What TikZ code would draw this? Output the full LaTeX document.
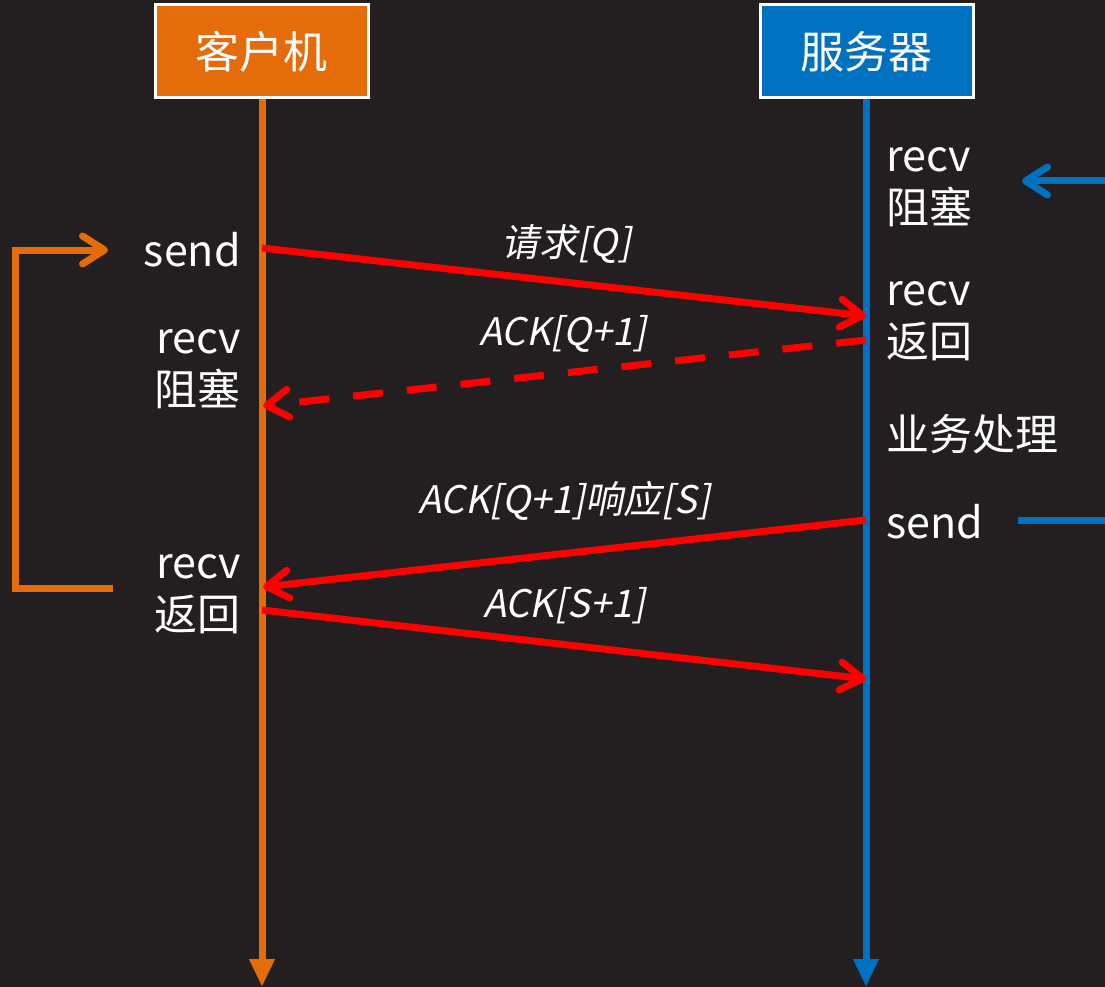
\documentclass[tikz,border=0pt]{standalone}
\usepackage{fontspec}
\setmainfont{Noto Sans CJK SC}
\newfontfamily\slantfont[FakeSlant=0.2]{Noto Sans CJK SC}
\usetikzlibrary{arrows.meta}
\definecolor{bg}{HTML}{231F20}
\definecolor{orng}{HTML}{E46C0A}
\definecolor{blu}{HTML}{0070C0}
\definecolor{rd}{HTML}{FF0000}
\tikzset{
  titlebox/.style={draw=white, line width=3pt, minimum width=213pt, minimum height=93pt, inner sep=0pt, text=white, font=\fontsize{44}{50}\selectfont},
  lifeline/.style={line width=7pt, -{Triangle[length=28pt,width=24pt]}},
  msg/.style={draw=rd, line width=7pt, -{Straight Barb[length=22pt,width=28pt,round]}},
  msglabel/.style={text=white, inner sep=0pt, font=\fontsize{38}{42}\slantfont},
  side/.style={text=white, inner sep=0pt, font=\fontsize{43}{52}\selectfont},
  loopline/.style={draw=orng, line width=7pt, -{Straight Barb[length=22pt,width=28pt,round]}},
}
\begin{document}
\begin{tikzpicture}[x=1pt,y=-1pt]
\fill[bg] (0,0) rectangle (1105,987);
\useasboundingbox (0,0) rectangle (1105,987);

% title boxes
\node[titlebox, fill=orng] (client) at (261.5,51.5) {客户机};
\node[titlebox, fill=blu] (server) at (866.5,51.5) {服务器};

% lifelines
\coordinate (cend) at (262,987);
\coordinate (send) at (866,987);
\draw[lifeline, orng] (client.south -| cend) -- (cend);
\draw[lifeline, blu] (server.south -| send) -- (send);

% message points
\coordinate (c1) at (262,248);
\coordinate (s1) at (866,316);
\coordinate (s2) at (866,340);
\coordinate (c2) at (263,406);
\coordinate (s3) at (866,520);
\coordinate (c3) at (263,587);
\coordinate (c4) at (262,610);
\coordinate (s4) at (866,679);

\draw[msg] (c1) -- (s1);
\draw[msg, dash pattern=on 30pt off 24pt] (s2) -- (c2);
\draw[msg] (s3) -- (c3);
\draw[msg] (c4) -- (s4);

% message labels
\node[msglabel] (l1) at (566,244) {请求[Q]};
\node[msglabel] (l2) at (563,334) {ACK[Q+1]};
\node[msglabel] (l3) at (564,501) {ACK[Q+1]响应[S]};
\node[msglabel] (l4) at (564,606) {ACK[S+1]};

% client side labels
\node[side, anchor=east] (csend) at (241,250) {send};
\node[side, anchor=east, align=right] (crecv1) at (241,369) {recv\\阻塞};
\node[side, anchor=east, align=right] (crecv2) at (241,594) {recv\\返回};

% server side labels
\node[side, anchor=west, align=left] (srecv1) at (886,187) {recv\\阻塞};
\node[side, anchor=west, align=left] (srecv2) at (886,321) {recv\\返回};
\node[side, anchor=west] (sproc) at (886,434) {业务处理};
\node[side, anchor=west] (ssend) at (886,522) {send};

% client loop
\coordinate (lb) at (113,588);
\coordinate (lc1) at (15,588);
\coordinate (lt) at (108,250);
\draw[loopline] (lb) -- (lc1) |- (lt);

% server external arrows
\coordinate (b1s) at (1105,181);
\coordinate (b1e) at (1022,181);
\draw[line width=7pt, draw=blu, -{Straight Barb[length=22pt,width=28pt,round]}] (b1s) -- (b1e);
\coordinate (b2s) at (1018,520);
\coordinate (b2e) at (1105,520);
\draw[line width=7pt, draw=blu] (b2s) -- (b2e);
\end{tikzpicture}
\end{document}
